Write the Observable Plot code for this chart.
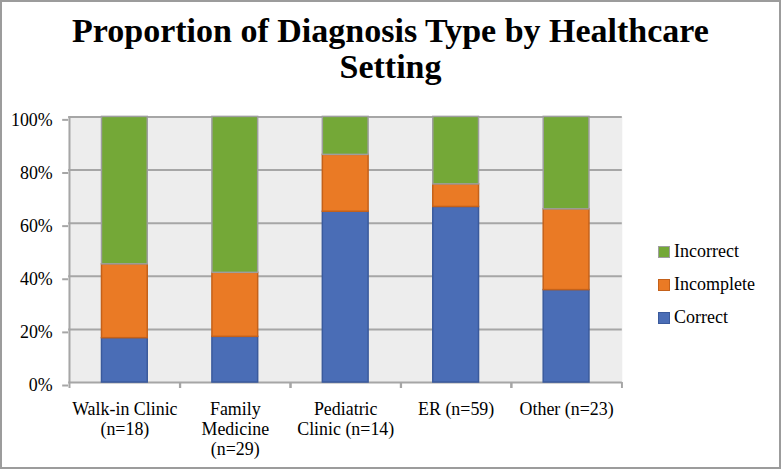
<!DOCTYPE html>
<html>
<head>
<meta charset="utf-8">
<script src="https://cdn.jsdelivr.net/npm/d3@7"></script>
<script src="https://cdn.jsdelivr.net/npm/@observablehq/plot@0.6"></script>
<style>
  html, body { margin: 0; padding: 0; background: #fff; }
  #chart {
    position: relative; width: 781px; height: 469px; box-sizing: border-box;
    border: 2px solid #9c9c9c; overflow: hidden; background: #fff;
    font-family: "Liberation Serif", "Times New Roman", serif; color: #000;
  }
  #chart svg { position: absolute; left: -2px; top: -2px; }
  #title {
    position: absolute; left: -2px; top: 11px; width: 781px; text-align: center;
    font-weight: bold; font-size: 34px; line-height: 36px;
  }
  #legend { position: absolute; left: 656px; top: 233px; font-size: 18px; }
  .item { display: flex; align-items: center; height: 33px; }
  .sw { width: 12px; height: 12px; margin-right: 4px; box-sizing: border-box; border: 1.5px solid; }
</style>
</head>
<body>
<div id="chart">
  <div id="title">Proportion of Diagnosis Type by Healthcare<br>Setting</div>
  <div id="legend"></div>
</div>
<script>
const categories = ["Walk-in Clinic\n(n=18)", "Family\nMedicine\n(n=29)", "Pediatric\nClinic (n=14)", "ER (n=59)", "Other (n=23)"];
const series = ["Correct", "Incomplete", "Incorrect"];
const correct = [16.7, 17.2, 64.3, 66.1, 34.8];
const incomplete = [27.8, 24.1, 21.4, 8.5, 30.4];
const incorrect = [55.5, 58.7, 14.3, 25.4, 34.8];
const yTicks = [0, 20, 40, 60, 80, 100];
const fills = ["#4a6db6", "#ea7a25", "#74a837"];
const strokes = ["#3a5a9c", "#c4611a", "#9e9e9e"];

const values = [correct, incomplete, incorrect];
const data = [];
series.forEach((s, si) => categories.forEach((c, ci) => data.push({cat: c, series: s, value: values[si][ci]})));

const W = 781, H = 469, mL = 68.5, mR = 156, mT = 117, mB = 85;
const step = (W - mL - mR) / categories.length;
const font = '"Liberation Serif", "Times New Roman", serif';

const plot = Plot.plot({
  width: W, height: H,
  marginLeft: mL, marginRight: mR, marginTop: mT, marginBottom: mB,
  style: {fontFamily: font, fontSize: "18px", color: "#000", background: "transparent", overflow: "visible"},
  x: {domain: categories, paddingInner: 0.59, paddingOuter: 0.295, label: null},
  y: {domain: [0, 100], label: null},
  color: {domain: series, range: fills},
  marks: [
    Plot.frame({fill: "#ededed", stroke: null}),
    Plot.ruleY(yTicks, {stroke: "#a6a6a6", strokeWidth: 2}),
    Plot.ruleX([categories[0]], {dx: -step / 2, y1: 0, y2: 100, stroke: "#a6a6a6", strokeWidth: 2}),
    Plot.barY(data, Plot.stackY({
      x: "cat", y: "value", z: "series", order: series,
      fill: "series",
      stroke: d => strokes[series.indexOf(d.series)], strokeWidth: 1.5
    })),
    Plot.axisY({ticks: yTicks, tickFormat: d => d + "%", tickSize: 6, tickPadding: 10, stroke: "#a6a6a6", strokeWidth: 2, fill: "#000", dy: 3, fontSize: 18, fontFamily: font}),
    Plot.axisX({tickSize: 6, dx: -step / 2, text: null, stroke: "#a6a6a6", strokeWidth: 2}),
    Plot.axisX({tickSize: 6, dx: step / 2, text: null, stroke: "#a6a6a6", strokeWidth: 2}),
    Plot.axisX({tickSize: 0, tickPadding: 18, lineHeight: 1.12, fill: "#000", fontSize: 18, fontFamily: font, lineAnchor: "top"})
  ]
});
document.getElementById("chart").appendChild(plot);

const legend = document.getElementById("legend");
[2, 1, 0].forEach(i => {
  const item = document.createElement("div");
  item.className = "item";
  const sw = document.createElement("div");
  sw.className = "sw";
  sw.style.background = fills[i];
  sw.style.borderColor = strokes[i];
  const t = document.createElement("span");
  t.textContent = series[i];
  item.appendChild(sw); item.appendChild(t);
  legend.appendChild(item);
});
</script>
</body>
</html>
